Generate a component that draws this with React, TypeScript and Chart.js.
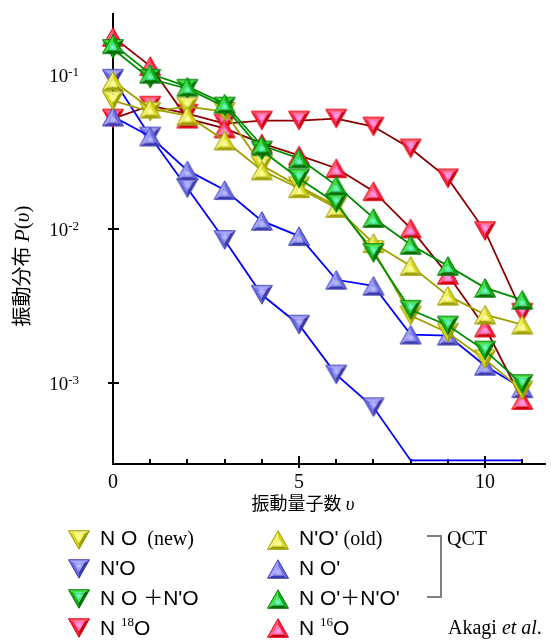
import React, { useEffect, useRef } from 'react';
import { Chart, registerables } from 'chart.js';
Chart.register(...registerables);

// ---- data ----
const V_LEVELS = [0, 1, 2, 3, 4, 5, 6, 7, 8, 9, 10, 11];
const NO_NEW = [0.068, 0.0577, 0.0622, 0.0577, 0.0259, 0.0189, 0.0141, 0.0073, 0.00275, 0.00213, 0.00143, 0.0009];
// zeros: below the plotted range (drawn along the bottom axis)
const NPRIME_O = [0.0942, 0.0398, 0.0184, 0.0085, 0.00375, 0.0024, 0.00114, 0.0007, 0, 0, 0, 0];
const NO_PLUS_NPRIME_O = [0.147, 0.0942, 0.0812, 0.0622, 0.0323, 0.0213, 0.0147, 0.007, 0.003, 0.00237, 0.00163, 0.00099];
const N18O = [0.052, 0.063, 0.056, 0.0483, 0.0505, 0.0505, 0.052, 0.0462, 0.0333, 0.0213, 0.0097, 0.00287];
const NPRIME_OPRIME_OLD = [0.0914, 0.0604, 0.0543, 0.0375, 0.024, 0.0184, 0.0137, 0.0081, 0.00577, 0.0037, 0.00279, 0.0024];
const NOPRIME = [0.0536, 0.0398, 0.024, 0.0179, 0.0113, 0.009, 0.00469, 0.00429, 0.00207, 0.00204, 0.0013, 0.00093];
const NOPRIME_PLUS_NPRIME_OPRIME = [0.158, 0.1015, 0.0837, 0.065, 0.0348, 0.0287, 0.0192, 0.0118, 0.0079, 0.00577, 0.00416, 0.00348];
const N16O = [0.176, 0.114, 0.052, 0.0449, 0.0359, 0.03, 0.0248, 0.0176, 0.0101, 0.00505, 0.0023, 0.00078];

const Y_TICK_EXPONENTS = [-1, -2, -3];
const X_TICK_LABELS = [0, 5, 10];
const X_MINOR_TICKS = [1, 2, 3, 4, 5, 6, 7, 8, 9, 10, 11];
const Y_MIN = Math.pow(10, -3.5);
const Y_MAX = Math.pow(10, -0.606);
const X_MAX = 11.61;

type MarkerSpec = { inner: string; innerLight: string; face: string; faceLight: string; faceDark: string; stroke: string };
const YELLOW: MarkerSpec = { inner: '#eeee40', innerLight: '#ffffb8', face: '#d4d418', faceLight: '#f2f27a', faceDark: '#a0a000', stroke: '#9c9c00' };
const BLUE: MarkerSpec = { inner: '#8484f2', innerLight: '#c4c4ff', face: '#6a6ae0', faceLight: '#a2a2fa', faceDark: '#3a3aae', stroke: '#4040b0' };
const GREEN: MarkerSpec = { inner: '#22d860', innerLight: '#80ffd0', face: '#10b010', faceLight: '#48e048', faceDark: '#006e00', stroke: '#007800' };
const RED: MarkerSpec = { inner: '#ff5cc0', innerLight: '#ffa8e4', face: '#ff2040', faceLight: '#ff6078', faceDark: '#cc0010', stroke: '#e00010' };

const MW = 26, MH = 24;
function makeMarker(s: MarkerSpec, up: boolean): HTMLCanvasElement {
  const cv = document.createElement('canvas');
  cv.width = MW; cv.height = MH;
  const g = cv.getContext('2d')!;
  const w = 21, h = 18.5;
  const cx = MW / 2, cy = MH / 2;
  const t = cy - h / 2, b = cy + h / 2;
  const P = up ? [[cx, t], [cx + w / 2, b], [cx - w / 2, b]] : [[cx - w / 2, t], [cx + w / 2, t], [cx, b]];
  const C = [(P[0][0] + P[1][0] + P[2][0]) / 3, (P[0][1] + P[1][1] + P[2][1]) / 3];
  const Q = P.map(p => [C[0] + 0.5 * (p[0] - C[0]), C[1] + 0.5 * (p[1] - C[1])]);
  for (let i = 0; i < 3; i++) {
    const j = (i + 1) % 3;
    const mx = (P[i][0] + P[j][0]) / 2 - C[0];
    const my = (P[i][1] + P[j][1]) / 2 - C[1];
    const len = Math.hypot(mx, my);
    const nx = mx / len, ny = my / len;
    const sh = -ny * 0.7 - nx * 0.5;
    g.fillStyle = sh > 0.3 ? s.faceLight : sh < -0.3 ? s.faceDark : s.face;
    g.beginPath();
    g.moveTo(P[i][0], P[i][1]);
    g.lineTo(P[j][0], P[j][1]);
    g.lineTo(Q[j][0], Q[j][1]);
    g.lineTo(Q[i][0], Q[i][1]);
    g.closePath();
    g.fill();
  }
  const grad = g.createRadialGradient(C[0], C[1], 0, C[0], C[1], 5);
  grad.addColorStop(0, s.innerLight);
  grad.addColorStop(1, s.inner);
  g.fillStyle = grad;
  g.beginPath();
  g.moveTo(Q[0][0], Q[0][1]); g.lineTo(Q[1][0], Q[1][1]); g.lineTo(Q[2][0], Q[2][1]);
  g.closePath(); g.fill();
  g.strokeStyle = s.stroke;
  g.lineWidth = 1;
  g.beginPath();
  g.moveTo(P[0][0], P[0][1]); g.lineTo(P[1][0], P[1][1]); g.lineTo(P[2][0], P[2][1]);
  g.closePath(); g.stroke();
  return cv;
}

const SERIF = '"Liberation Serif", "Times New Roman", serif';
const SANS = '"Liberation Sans", Arial, sans-serif';
const CJK = '"Noto Sans CJK JP", sans-serif';

type Part = { t: string; font: string; dy?: number };
function drawParts(ctx: CanvasRenderingContext2D, x: number, y: number, parts: Part[], align: 'left' | 'center' = 'left') {
  let total = 0;
  for (const p of parts) { ctx.font = p.font; total += ctx.measureText(p.t).width; }
  let cx = align === 'center' ? x - total / 2 : x;
  ctx.textAlign = 'left';
  ctx.textBaseline = 'alphabetic';
  for (const p of parts) {
    ctx.font = p.font;
    ctx.fillText(p.t, cx, y + (p.dy || 0));
    cx += ctx.measureText(p.t).width;
  }
}

export default function App() {
  const ref = useRef<HTMLCanvasElement | null>(null);
  useEffect(() => {
    const canvas = ref.current!;
    const mk = {
      yd: makeMarker(YELLOW, false), yu: makeMarker(YELLOW, true),
      bd: makeMarker(BLUE, false), bu: makeMarker(BLUE, true),
      gd: makeMarker(GREEN, false), gu: makeMarker(GREEN, true),
      rd: makeMarker(RED, false), ru: makeMarker(RED, true),
    };
    const OLIVE = '#a0a000', BLUE_L = '#0000ff', GREEN_L = '#008c00', RED_L = '#8b0000';
    const series = [
      { vals: NOPRIME_PLUS_NPRIME_OPRIME, img: mk.gu, line: GREEN_L },
      { vals: NO_PLUS_NPRIME_O, img: mk.gd, line: GREEN_L },
      { vals: NPRIME_OPRIME_OLD, img: mk.yu, line: OLIVE },
      { vals: NO_NEW, img: mk.yd, line: OLIVE },
      { vals: N16O, img: mk.ru, line: RED_L },
      { vals: NOPRIME, img: mk.bu, line: BLUE_L },
      { vals: NPRIME_O, img: mk.bd, line: BLUE_L },
      { vals: N18O, img: mk.rd, line: RED_L },
    ];
    const datasets = series.map(s => ({
      // values of 0 fall below the log axis: pin them to the axis floor
      data: V_LEVELS.map((v, i) => ({ x: v, y: s.vals[i] > 0 ? s.vals[i] : Y_MIN })),
      borderColor: s.line,
      borderWidth: 1.8,
      pointStyle: s.img as any,
      pointRadius: (c: any) => (s.vals[c.dataIndex] > 0 ? 10 : 0),
      pointHoverRadius: 10,
      clip: false as any,
      fill: false,
      tension: 0,
    }));

    const decor = {
      id: 'decor',
      beforeDatasetsDraw(chart: any) {
        const ctx: CanvasRenderingContext2D = chart.ctx;
        const xs = chart.scales.x, ys = chart.scales.y;
        const y0 = ys.bottom, x0 = xs.left;
        ctx.save();
        ctx.strokeStyle = '#000';
        ctx.lineWidth = 2;
        for (const v of X_MINOR_TICKS) {
          const px = Math.round(xs.getPixelForValue(v));
          const major = v % 5 === 0;
          ctx.beginPath();
          ctx.moveTo(px, y0 - (major ? 8 : 5));
          ctx.lineTo(px, y0 + (major ? 4 : 0));
          ctx.stroke();
        }
        for (const e of Y_TICK_EXPONENTS) {
          const py = Math.round(ys.getPixelForValue(Math.pow(10, e)));
          ctx.beginPath();
          ctx.moveTo(x0 - 5, py);
          ctx.lineTo(x0 + 6, py);
          ctx.stroke();
        }
        ctx.restore();
      },
      afterDraw(chart: any) {
        const ctx: CanvasRenderingContext2D = chart.ctx;
        const xs = chart.scales.x, ys = chart.scales.y;
        ctx.save();
        ctx.fillStyle = '#000';
        // y tick labels
        for (const e of Y_TICK_EXPONENTS) {
          const py = ys.getPixelForValue(Math.pow(10, e));
          const sup = String(e);
          ctx.font = `13px ${SERIF}`;
          const sw = ctx.measureText(sup).width;
          const right = 79;
          ctx.textAlign = 'left';
          ctx.fillText(sup, right - sw, py + 1);
          ctx.font = `19px ${SERIF}`;
          ctx.textAlign = 'right';
          ctx.fillText('10', right - sw, py + 7);
        }
        // x tick labels
        ctx.textAlign = 'center';
        ctx.font = `20px ${SERIF}`;
        for (const v of X_TICK_LABELS) {
          ctx.fillText(String(v), xs.getPixelForValue(v), 488);
        }
        // x title
        drawParts(ctx, 303, 510, [
          { t: '振動量子数 ', font: `18px ${CJK}` },
          { t: 'υ', font: `italic 19px ${SERIF}` },
        ], 'center');
        // y title
        ctx.save();
        ctx.translate(29, 266);
        ctx.rotate(-Math.PI / 2);
        drawParts(ctx, 0, 0, [
          { t: '振動分布 ', font: `20px ${CJK}` },
          { t: 'P', font: `italic 21px ${SERIF}` },
          { t: '(', font: `21px ${SERIF}` },
          { t: 'υ', font: `italic 21px ${SERIF}` },
          { t: ')', font: `21px ${SERIF}` },
        ], 'center');
        ctx.restore();

        // legend
        const rowsMarker = [540, 569, 599, 628];
        const rowsText = [545, 575, 605, 635];
        const sans = `21px ${SANS}`;
        const serif = `20px ${SERIF}`;
        const sup = `13px ${SERIF}`;
        const cjk = `20px ${CJK}`;
        const col1 = [
          { img: mk.yd, parts: [{ t: 'N O', font: sans }, { t: '  (new)', font: serif }] },
          { img: mk.bd, parts: [{ t: "N'O", font: sans }] },
          { img: mk.gd, parts: [{ t: 'N O ', font: sans }, { t: '＋', font: cjk }, { t: "N'O", font: sans }] },
          { img: mk.rd, parts: [{ t: 'N ', font: sans }, { t: '18', font: sup, dy: -9 }, { t: 'O', font: sans }] },
        ];
        const col2 = [
          { img: mk.yu, parts: [{ t: "N'O'", font: sans }, { t: ' (old)', font: serif }] },
          { img: mk.bu, parts: [{ t: "N O'", font: sans }] },
          { img: mk.gu, parts: [{ t: "N O'", font: sans }, { t: '＋', font: cjk }, { t: "N'O'", font: sans }] },
          { img: mk.ru, parts: [{ t: 'N ', font: sans }, { t: '16', font: sup, dy: -9 }, { t: 'O', font: sans }] },
        ];
        col1.forEach((r, i) => {
          ctx.drawImage(r.img, 79 - MW / 2, rowsMarker[i] - MH / 2);
          drawParts(ctx, 100, rowsText[i], r.parts);
        });
        col2.forEach((r, i) => {
          ctx.drawImage(r.img, 278 - MW / 2, rowsMarker[i] - MH / 2);
          drawParts(ctx, 299, rowsText[i], r.parts);
        });
        // bracket
        ctx.strokeStyle = '#808080';
        ctx.lineWidth = 2;
        ctx.beginPath();
        ctx.moveTo(427, 536);
        ctx.lineTo(441, 536);
        ctx.lineTo(441, 597);
        ctx.lineTo(427, 597);
        ctx.stroke();
        ctx.fillStyle = '#000';
        drawParts(ctx, 447, 545, [{ t: 'QCT', font: serif }]);
        drawParts(ctx, 448, 634, [
          { t: 'Akagi ', font: serif },
          { t: 'et al', font: `italic 20px ${SERIF}` },
          { t: '.', font: serif },
        ]);
        ctx.restore();
      },
    };

    const chart = new Chart(canvas, {
      type: 'line',
      data: { datasets: datasets as any },
      options: {
        responsive: false,
        animation: false,
        events: [],
        layout: { autoPadding: false, padding: { left: 113, top: 14, right: 6, bottom: 178 } },
        plugins: { legend: { display: false }, tooltip: { enabled: false } },
        scales: {
          x: {
            type: 'linear', min: 0, max: X_MAX,
            ticks: { display: false },
            grid: { display: false, drawTicks: false },
            border: { display: true, color: '#000', width: 2 },
          },
          y: {
            type: 'logarithmic', min: Y_MIN, max: Y_MAX,
            ticks: { display: false },
            grid: { display: false, drawTicks: false },
            border: { display: true, color: '#000', width: 2 },
          },
        },
      },
      plugins: [decor],
    });
    return () => chart.destroy();
  }, []);
  return (
    <div style={{ position: 'absolute', left: 0, top: 0, width: 551, height: 642, background: '#fff' }}>
      <canvas ref={ref} width={551} height={642} style={{ display: 'block' }} />
    </div>
  );
}
